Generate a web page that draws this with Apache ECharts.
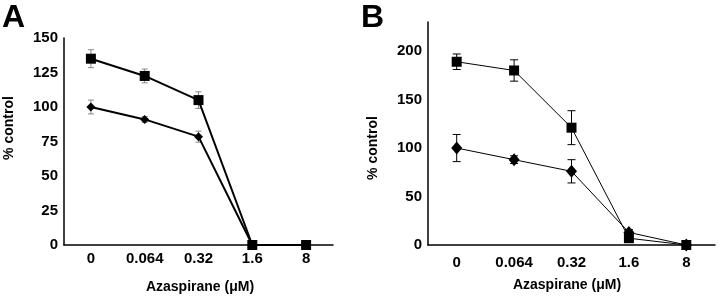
<!DOCTYPE html>
<html>
<head>
<meta charset="utf-8">
<script src="https://cdn.jsdelivr.net/npm/echarts@6/dist/echarts.min.js"></script>
<style>
  html, body { margin: 0; padding: 0; background: #fff; }
  #chart { width: 720px; height: 297px; }
</style>
</head>
<body>
<div id="chart"></div>
<script>
// 浓度 (x 轴)
var doses = ['0', '0.064', '0.32', '1.6', '8'];

// A 图
var squareA = [135, 122.5, 105, 0, 0];
var squareErrA = [6.5, 5, 6, 0, 0];
var diamondA = [100, 91, 78.5, 0, 0];
var diamondErrA = [5, 2, 4, 0, 0];

// B 图
var squareB = [189, 180, 121, 7, 0];
var squareErrB = [8, 11, 17.5, 0, 0];
var diamondB = [100, 88, 76, 13, 0];
var diamondErrB = [14, 4, 12, 3, 0];

var yTicksA = [0, 25, 50, 75, 100, 125, 150];
var yTicksB = [0, 50, 100, 150, 200];

var FONT = '"Liberation Sans", Arial, sans-serif';

// 误差线数据 [x, y, err]
function errData(vals, errs) {
	var out = [];
	for (var i = 0; i < vals.length; i++) {
		if (errs[i] > 0) out.push([i, vals[i], errs[i]]);
	}
	return out;
}

function errRender(color, cap) {
	return function(params, api) {
		var x = api.value(0), v = api.value(1), e = api.value(2);
		var hi = api.coord([x, v + e]);
		var lo = api.coord([x, v - e]);
		var st = { stroke: color, lineWidth: 1 };
		return {
			type: 'group',
			children: [
				{ type: 'line', shape: { x1: hi[0], y1: hi[1], x2: lo[0], y2: lo[1] }, style: st },
				{ type: 'line', shape: { x1: hi[0] - cap, y1: hi[1], x2: hi[0] + cap, y2: hi[1] }, style: st },
				{ type: 'line', shape: { x1: lo[0] - cap, y1: lo[1], x2: lo[0] + cap, y2: lo[1] }, style: st }
			]
		};
	};
}

function xAxisCfg(idx, margin) {
	return {
		type: 'category',
		gridIndex: idx,
		data: doses,
		boundaryGap: true,
		axisTick: { show: false },
		axisLine: { lineStyle: { color: '#000', width: 1.5 } },
		axisLabel: { color: '#000', fontFamily: FONT, fontWeight: 'bold', fontSize: 15, margin: margin }
	};
}

function yAxisCfg(idx, max, interval, ticks) {
	return {
		type: 'value',
		gridIndex: idx,
		min: 0,
		max: max,
		interval: interval,
		splitLine: { show: false },
		axisTick: { show: false },
		axisLine: { show: true, lineStyle: { color: '#000', width: 1.5 } },
		axisLabel: {
			color: '#000', fontFamily: FONT, fontWeight: 'bold', fontSize: 15, margin: 6,
			formatter: function(v) { return ticks.indexOf(v) >= 0 ? String(v) : ''; }
		}
	};
}

function lineSeries(idx, data, symbol, size, width) {
	return {
		type: 'line',
		xAxisIndex: idx,
		yAxisIndex: idx,
		data: data,
		symbol: symbol,
		symbolSize: size,
		showAllSymbol: true,
		clip: false,
		z: 3,
		lineStyle: { color: '#000', width: width },
		itemStyle: { color: '#000', borderWidth: 0 },
		emphasis: { disabled: true }
	};
}

function errSeries(idx, vals, errs, color, cap) {
	return {
		type: 'custom',
		xAxisIndex: idx,
		yAxisIndex: idx,
		data: errData(vals, errs),
		renderItem: errRender(color, cap),
		z: 2,
		silent: true
	};
}

var chart = echarts.init(document.getElementById('chart'), null, { renderer: 'canvas' });
chart.setOption({
	animation: false,
	backgroundColor: '#fff',
	grid: [
		{ left: 64, top: 38, width: 269, height: 207 },
		{ left: 428, top: 22, width: 287, height: 223 }
	],
	xAxis: [xAxisCfg(0, 6), xAxisCfg(1, 10)],
	yAxis: [yAxisCfg(0, 150, 25, yTicksA), yAxisCfg(1, 230, 50, yTicksB)],
	graphic: [
		{ type: 'text', left: 2, top: 2, style: { text: 'A', font: 'bold 32px ' + FONT, fill: '#000' } },
		{ type: 'text', left: 361, top: 2, style: { text: 'B', font: 'bold 32px ' + FONT, fill: '#000' } },
		{ type: 'text', x: 9, y: 128, rotation: Math.PI / 2, style: { text: '% control', font: 'bold 14px ' + FONT, fill: '#000', align: 'center', verticalAlign: 'middle' } },
		{ type: 'text', x: 373, y: 148, rotation: Math.PI / 2, style: { text: '% control', font: 'bold 14px ' + FONT, fill: '#000', align: 'center', verticalAlign: 'middle' } },
		{ type: 'text', x: 200, y: 287, style: { text: 'Azaspirane (\u03bcM)', font: 'bold 14px ' + FONT, fill: '#000', align: 'center', verticalAlign: 'middle' } },
		{ type: 'text', x: 567, y: 285, style: { text: 'Azaspirane (\u03bcM)', font: 'bold 14px ' + FONT, fill: '#000', align: 'center', verticalAlign: 'middle' } }
	],
	series: [
		errSeries(0, squareA, squareErrA, '#888', 3),
		errSeries(0, diamondA, diamondErrA, '#888', 3),
		lineSeries(0, squareA, 'rect', 10, 2),
		lineSeries(0, diamondA, 'diamond', 9, 2),
		errSeries(1, squareB, squareErrB, '#000', 4),
		errSeries(1, diamondB, diamondErrB, '#000', 4),
		lineSeries(1, squareB, 'rect', 10, 1),
		lineSeries(1, diamondB, 'diamond', [11, 13], 1)
	]
});
</script>
</body>
</html>
